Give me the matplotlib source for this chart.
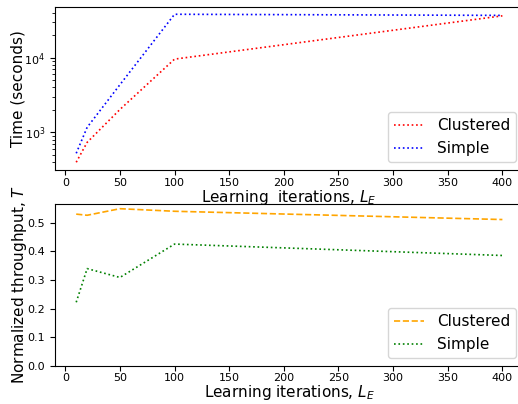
import matplotlib
matplotlib.use("Agg")
import matplotlib.pyplot as plt

iterations = [10, 20, 50, 100, 400]
time_clustered = [398, 736, 2030, 9600, 36500]
time_simple = [525, 1170, 4360, 38300, 37000]
thr_clustered = [0.531, 0.527, 0.550, 0.541, 0.512]
thr_simple = [0.222, 0.340, 0.309, 0.426, 0.386]

fig = plt.figure(figsize=(5.18, 4.04), dpi=100)
ax1 = fig.add_axes([0.106, 0.58, 0.905, 0.403])
ax2 = fig.add_axes([0.106, 0.095, 0.905, 0.40])

ax1.plot(iterations, time_clustered, ':', color='red', lw=1.2, label='Clustered')
ax1.plot(iterations, time_simple, ':', color='blue', lw=1.2, label='Simple')
ax1.set_yscale('log')
ax1.set_ylabel('Time (seconds)', fontsize=11, labelpad=-1)
ax1.set_xlabel('Learning  iterations, $L_E$', fontsize=11, labelpad=0)
ax1.legend(loc='lower right', fontsize=11)
ax1.tick_params(labelsize=8)
ax1.tick_params(axis='x', pad=2.5)

ax2.plot(iterations, thr_clustered, '--', color='orange', lw=1.2, label='Clustered')
ax2.plot(iterations, thr_simple, ':', color='green', lw=1.2, label='Simple')
ax2.set_ylim(bottom=0)
ax2.set_ylabel('Normalized throughput, $T$', fontsize=11, labelpad=-1)
ax2.set_xlabel('Learning iterations, $L_E$', fontsize=11, labelpad=0)
ax2.legend(loc='lower right', fontsize=11)
ax2.tick_params(labelsize=8)
ax2.tick_params(axis='x', pad=2)

fig.savefig('out.png', dpi=100)
